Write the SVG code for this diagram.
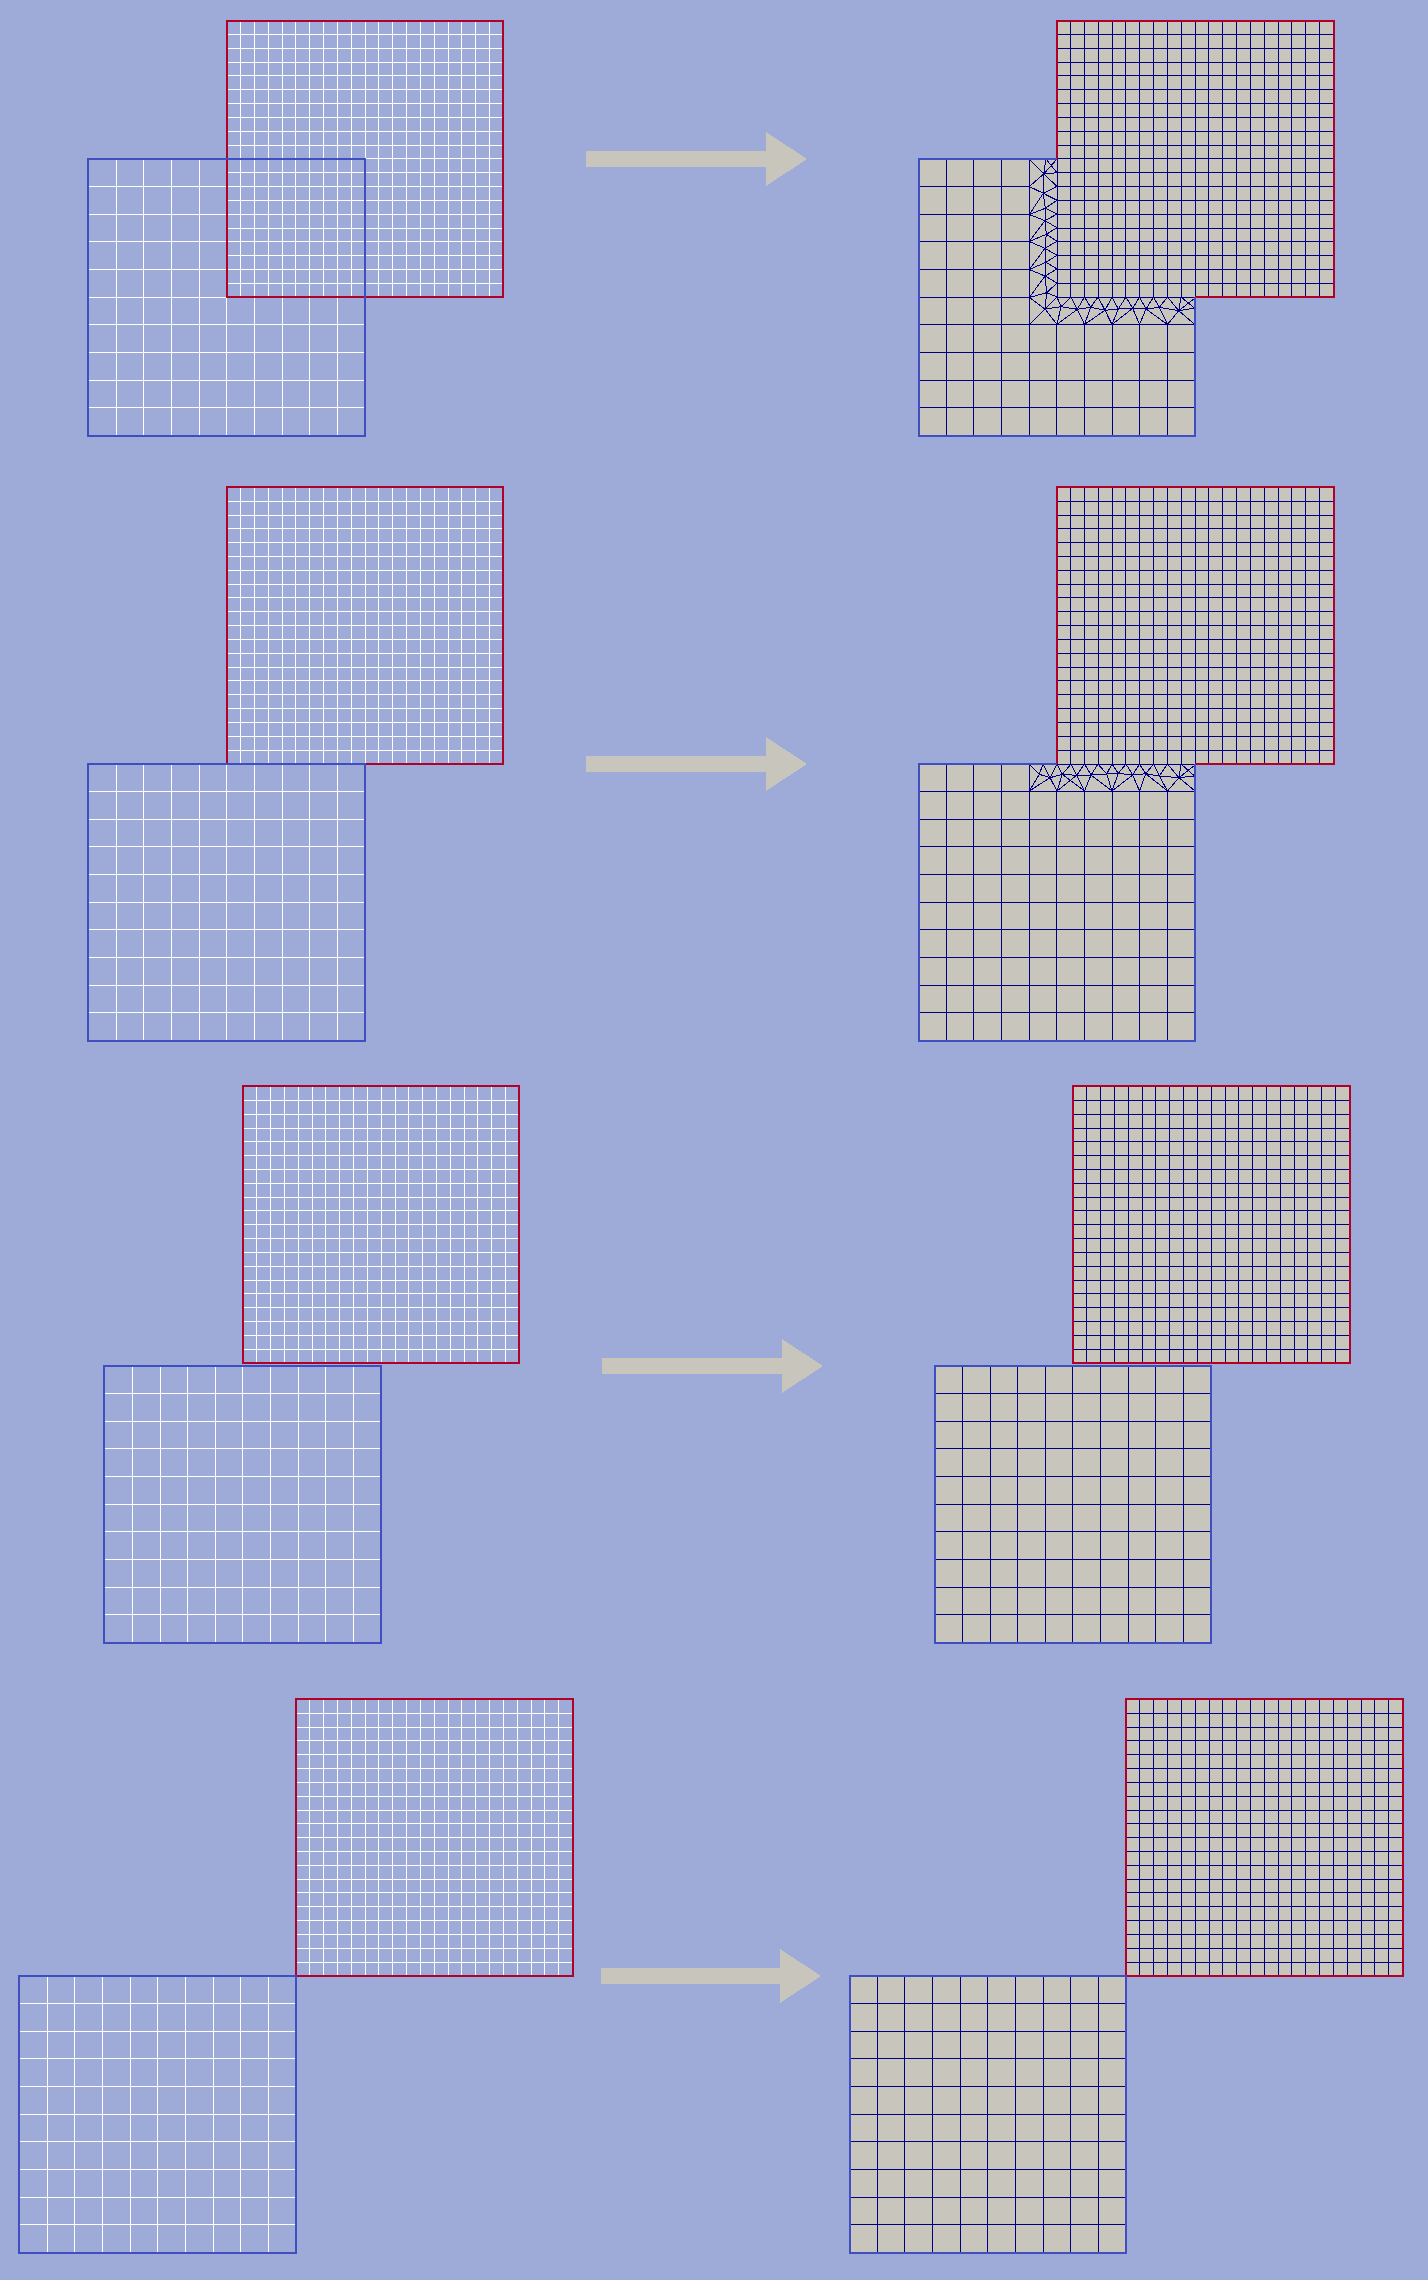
<svg xmlns="http://www.w3.org/2000/svg" width="1428" height="2280" viewBox="0 0 1428 2280">
<style>
*{shape-rendering:crispEdges}
.g{fill:none;stroke-width:1}
.w{stroke:#fff}
.n{stroke:#000080}
.rb{fill:none;stroke:#b00228;stroke-width:2}
.bb{fill:none;stroke:#3f4fc2;stroke-width:2}
.f{fill:#c8c5bd}
.arrow{fill:#c8c5bd}
</style>
<defs>
<path id="r" class="g" d="M13.83 0V276.5M27.65 0V276.5M41.48 0V276.5M55.3 0V276.5M69.13 0V276.5M82.95 0V276.5M96.78 0V276.5M110.6 0V276.5M124.43 0V276.5M138.25 0V276.5M152.08 0V276.5M165.9 0V276.5M179.73 0V276.5M193.55 0V276.5M207.38 0V276.5M221.2 0V276.5M235.03 0V276.5M248.85 0V276.5M262.68 0V276.5M0 13.83H276.5M0 27.65H276.5M0 41.48H276.5M0 55.3H276.5M0 69.13H276.5M0 82.95H276.5M0 96.78H276.5M0 110.6H276.5M0 124.43H276.5M0 138.25H276.5M0 152.08H276.5M0 165.9H276.5M0 179.73H276.5M0 193.55H276.5M0 207.38H276.5M0 221.2H276.5M0 235.03H276.5M0 248.85H276.5M0 262.68H276.5"/>
<path id="b" class="g" d="M27.65 0V276.5M55.3 0V276.5M82.95 0V276.5M110.6 0V276.5M138.25 0V276.5M165.9 0V276.5M193.55 0V276.5M221.2 0V276.5M248.85 0V276.5M0 27.65H276.5M0 55.3H276.5M0 82.95H276.5M0 110.6H276.5M0 138.25H276.5M0 165.9H276.5M0 193.55H276.5M0 221.2H276.5M0 248.85H276.5"/>
<path id="b1" class="g" d="M27.65 0V276.5M55.3 0V276.5M82.95 0V276.5M110.6 0V276.5M138.25 165.9V276.5M165.9 165.9V276.5M193.55 165.9V276.5M221.2 165.9V276.5M248.85 165.9V276.5M0 27.65H110.6M0 55.3H110.6M0 82.95H110.6M0 110.6H110.6M0 138.25H110.6M0 165.9H276.5M0 193.55H276.5M0 221.2H276.5M0 248.85H276.5"/>
<path id="b2" class="g" d="M27.65 0V276.5M55.3 0V276.5M82.95 0V276.5M110.6 0V276.5M138.25 27.65V276.5M165.9 27.65V276.5M193.55 27.65V276.5M221.2 27.65V276.5M248.85 27.65V276.5M0 27.65H276.5M0 55.3H276.5M0 82.95H276.5M0 110.6H276.5M0 138.25H276.5M0 165.9H276.5M0 193.55H276.5M0 221.2H276.5M0 248.85H276.5"/>
</defs>
<rect width="1428" height="2280" fill="#9eabd8"/>

<g id="row1-input">
<g id="row1-input-grids"><use href="#r" class="w" transform="translate(226.8 20.65)"/><use href="#b" class="w" transform="translate(88.55 158.9)"/></g>
<rect id="row1-input-red" class="rb" x="227" y="21" width="276" height="276"/>
<rect id="row1-input-blue" class="bb" x="88" y="159" width="277" height="277"/>
</g>
<g id="row1-output">
<path class="f" d="M1057 21H1334V297H1195V436H919V159H1057Z"/>
<g id="row1-output-red"><use href="#r" class="n" transform="translate(1056.8 20.65)"/></g>
<g id="row1-output-blue"><use href="#b1" class="n" transform="translate(918.55 158.9)"/></g>
<path id="row1-output-mesh" class="g n" d="M1057 159V297H1195M1043.7 174L1043.3 193.3 1045.3 208.3 1045 220.7 1046.3 234.3 1045 248.3 1046 262.3 1045 276 1046.7 292.7 1045 309M1029.3 159L1043.7 174 1029.3 186.5 1043.3 193.3 1029.3 214.5 1045.3 208.3M1029.3 214.5L1045 220.7 1029.3 241.5 1046.3 234.3M1029.3 241.5L1045 248.3 1029.3 269.5 1046 262.3M1029.3 269.5L1045 276 1029.3 297.5 1046.7 292.7M1029.3 297.5L1045 309 1029.3 324.5M1057 159L1043.7 174 1046 159 1057 172.7 1043.7 174 1057 186.3 1043.3 193.3 1057 200.3 1045.3 208.3 1057 214 1045 220.7 1057 227.7 1046.3 234.3 1057 241.3 1045 248.3 1057 255.3 1046 262.3 1057 269 1045 276 1057 283 1046.7 292.7 1057 297 1045 309M1045 309L1061 306.7 1077.3 309.3 1090.7 307.3 1105 310.3 1118.3 309 1132.7 308.3 1146 309 1159.3 307.3 1178.7 310.7 1194.5 308M1057 297L1061 306.7 1071 297 1077.3 309.3 1084.5 297 1090.7 307.3 1098 297 1105 310.3 1112 297 1118.3 309 1126 297 1132.7 308.3 1139.5 297 1146 309 1153.5 297 1159.3 307.3 1167.5 297 1178.7 310.7 1181 297 1194.5 308M1178.7 310.7L1195 298M1045 309L1057 324.5 1061 306.7M1057 324.5L1077.3 309.3 1084.5 324.5 1090.7 307.3M1084.5 324.5L1105 310.3 1112 324.5 1118.3 309M1112 324.5L1132.7 308.3 1139.5 324.5 1146 309 1167.5 324.5 1159.3 307.3M1167.5 324.5L1178.7 310.7 1195 324.5"/>
<path class="rb" d="M1057 159V21H1334V297H1195"/>
<path class="bb" d="M1057 159H919V436H1195V297"/>
</g>

<g id="row2-input">
<g id="row2-input-grids"><use href="#r" class="w" transform="translate(226.8 487.4)"/><use href="#b" class="w" transform="translate(88.55 763.9)"/></g>
<rect id="row2-input-red" class="rb" x="227" y="487" width="276" height="277"/>
<rect id="row2-input-blue" class="bb" x="88" y="764" width="277" height="277"/>
</g>
<g id="row2-output">
<path class="f" d="M1057 487H1334V764H1195V1041H919V764H1057Z"/>
<g id="row2-output-red"><use href="#r" class="n" transform="translate(1056.8 487.4)"/></g>
<g id="row2-output-blue"><use href="#b2" class="n" transform="translate(918.55 763.9)"/></g>
<path id="row2-output-mesh" class="g n" d="M1057 764H1195M1039.3 774.3L1050 777.7 1062.3 774.3 1076.7 775.3 1091 775 1106.7 774 1118.3 773.3 1132.7 775 1145.7 773.7 1159.3 776 1179 777.7 1194.5 776M1029.3 764L1039.3 774.3 1043 764 1050 777.7 1057 764 1062.3 774.3 1071 764 1076.7 775.3 1084.5 764 1091 775 1098 764 1106.7 774 1112 764 1118.3 773.3 1126 764 1132.7 775 1139.5 764 1145.7 773.7 1153.5 764 1159.3 776 1167.5 764 1179 777.7 1181 764 1194.5 776M1179 777.7L1195 765M1039.3 774.3L1029.3 791 1050 777.7 1057 791 1062.3 774.3M1057 791L1076.7 775.3 1084.5 791 1062.3 774.3M1084.5 791L1091 775 1112 791 1106.7 774M1112 791L1118.3 773.3M1112 791L1132.7 775 1139.5 791 1145.7 773.7 1167.5 791 1159.3 776M1167.5 791L1179 777.7 1195 791"/>
<path class="rb" d="M1057 764V487H1334V764H1195"/>
<path class="bb" d="M1057 764H919V1041H1195V764"/>
</g>

<g id="row3-input">
<g id="row3-input-red"><use href="#r" class="w" transform="translate(242.95 1086.55)"/><rect class="rb" x="243" y="1086" width="276" height="277"/></g>
<g id="row3-input-blue"><use href="#b" class="w" transform="translate(104.7 1365.9)"/><rect class="bb" x="104" y="1366" width="277" height="277"/></g>
</g>
<g id="row3-output">
<rect class="f" x="1073" y="1086" width="277" height="277"/>
<rect class="f" x="935" y="1366" width="276" height="277"/>
<g id="row3-output-red"><use href="#r" class="n" transform="translate(1072.95 1086.55)"/><rect class="rb" x="1073" y="1086" width="277" height="277"/></g>
<g id="row3-output-blue"><use href="#b" class="n" transform="translate(934.7 1365.9)"/><rect class="bb" x="935" y="1366" width="276" height="277"/></g>
</g>

<g id="row4-input">
<g id="row4-input-red"><use href="#r" class="w" transform="translate(296.05 1699.4)"/><rect class="rb" x="296" y="1699" width="277" height="277"/></g>
<g id="row4-input-blue"><use href="#b" class="w" transform="translate(19.55 1975.9)"/><rect class="bb" x="19" y="1976" width="277" height="277"/></g>
</g>
<g id="row4-output">
<rect class="f" x="1126" y="1699" width="277" height="277"/>
<rect class="f" x="850" y="1976" width="276" height="277"/>
<g id="row4-output-red"><use href="#r" class="n" transform="translate(1126.05 1699.4)"/><rect class="rb" x="1126" y="1699" width="277" height="277"/></g>
<g id="row4-output-blue"><use href="#b" class="n" transform="translate(849.55 1975.9)"/><rect class="bb" x="850" y="1976" width="276" height="277"/></g>
</g>

<g id="connectors">
<path class="arrow" d="M586 151H766V132L807 159 766 186V167H586Z"/>
<path class="arrow" d="M586 756H766V737L807 764 766 791V772H586Z"/>
<path class="arrow" d="M602 1358H782V1339L823 1366 782 1393V1374H602Z"/>
<path class="arrow" d="M601 1968H780V1949L821 1976 780 2003V1984H601Z"/>
</g>
</svg>
